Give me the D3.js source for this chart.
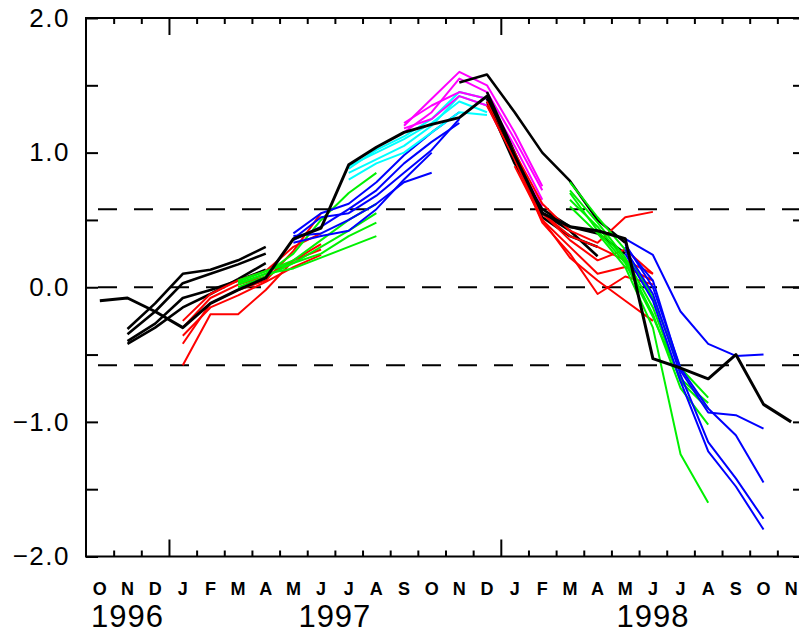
<!DOCTYPE html>
<html><head><meta charset="utf-8">
<script src="https://cdn.jsdelivr.net/npm/d3@7"></script>
<style>
html,body{margin:0;padding:0;background:#fff;}
svg{display:block;}
text{font-family:"Liberation Sans",Arial,sans-serif;fill:#000;}
</style></head>
<body>
<svg id="c" width="799" height="635"></svg>
<script>
// ---- data ----
const months = ["O","N","D","J","F","M","A","M","J","J","A","S","O","N","D","J","F","M","A","M","J","J","A","S","O","N"];
const yearLabels = ["1996","1997","1998"];
const yearPos = [1.5, 9, 20.5];           // month index where year label is centred
const yTicks = [-2,-1.5,-1,-0.5,0,0.5,1,1.5,2];
const refLines = [0.58, 0, -0.58];

// observed (starts Oct 1996 = index 0)
const observed = [-0.10,-0.08,-0.18,-0.30,-0.12,-0.02,0.07,0.36,0.44,0.91,1.04,1.15,1.21,1.26,1.42,0.98,0.55,0.45,0.42,0.36,-0.53,-0.60,-0.68,-0.50,-0.87,-1.00];

// forecasts: start month index + values
const black96Start = [1,1,1,1];
const black96 = [
  [-0.31,-0.12,0.10,0.13,0.20,0.30],
  [-0.35,-0.18,0.03,0.10,0.17,0.25],
  [-0.40,-0.27,-0.08,-0.02,0.05,0.13],
  [-0.42,-0.30,-0.15,-0.05,0.06,0.18]
];
const red97Start = [3,3,3,3,3];
const red97 = [
  [-0.58,-0.20,-0.20,-0.02,0.20,0.32],
  [-0.42,-0.12,-0.02,0.05,0.27,0.55],
  [-0.30,-0.08,0.02,0.08,0.20,0.28],
  [-0.36,-0.15,-0.06,0.04,0.15,0.24],
  [-0.25,-0.05,0.05,0.12,0.30,0.40]
];
const green97Start = [5,5,5,5,5];
const green97 = [
  [0.02,0.10,0.25,0.50,0.70,0.85],
  [0.05,0.12,0.20,0.35,0.50,0.62],
  [0.00,0.08,0.18,0.30,0.42,0.55],
  [0.03,0.10,0.14,0.22,0.30,0.38],
  [0.04,0.12,0.18,0.25,0.38,0.48]
];
const blue97Start = [7,7,7,7,7];
const blue97 = [
  [0.38,0.40,0.50,0.62,0.78,0.85],
  [0.35,0.45,0.58,0.72,0.92,1.08,1.22],
  [0.40,0.55,0.62,0.78,0.98,1.15,1.30],
  [0.36,0.52,0.55,0.68,0.85,1.02,1.25],
  [0.33,0.38,0.42,0.58,0.80,1.00]
];
const cyan97Start = [9,9,9,9];
const cyan97 = [
  [0.90,1.00,1.10,1.22,1.38,1.30],
  [0.85,0.95,1.05,1.20,1.42,1.35],
  [0.80,0.92,1.00,1.15,1.30,1.28],
  [0.88,1.02,1.12,1.25,1.45,1.40]
];
const magentaStart = [11,11,11,11];
const magenta = [
  [1.20,1.40,1.60,1.50,1.15,0.75],
  [1.15,1.30,1.55,1.45,1.10,0.72],
  [1.22,1.35,1.45,1.40,1.05,0.65],
  [1.18,1.25,1.42,1.35,0.95,0.60]
];
const black98Start = [13,14,14,14];
const black98 = [
  [1.52,1.58,1.30,1.00,0.79,0.50,0.33],
  [1.45,1.00,0.55,0.42,0.23],
  [1.40,0.95,0.52,0.38,0.30],
  [1.38,0.92,0.58,0.45,0.40,0.25]
];
const red98Start = [14,14,15,15,15,16];
const red98 = [
  [1.38,1.00,0.62,0.42,0.33,0.52,0.56],
  [1.35,0.95,0.55,0.35,0.20,0.28,0.10],
  [1.00,0.50,0.30,0.10,0.15,0.05],
  [0.95,0.48,0.25,-0.05,0.08,0.02],
  [0.90,0.50,0.22,0.05,-0.10,-0.25],
  [0.55,0.38,0.30,0.20,0.10]
];
const green98Start = [17,17,17,17,17];
const green98 = [
  [0.78,0.52,0.28,-0.08,-0.60,-0.82],
  [0.72,0.48,0.22,-0.15,-0.70,-0.90],
  [0.65,0.45,0.20,-0.20,-0.75,-1.02],
  [0.60,0.40,0.15,-0.30,-1.24,-1.60],
  [0.70,0.42,0.18,-0.22,-0.68,-0.86]
];
const blue98Start = [19,19,19,19,19];
const blue98 = [
  [0.36,0.24,-0.18,-0.42,-0.51,-0.50],
  [0.30,0.05,-0.62,-0.93,-0.95,-1.05],
  [0.32,0.00,-0.60,-0.90,-1.10,-1.45],
  [0.28,-0.05,-0.65,-1.15,-1.42,-1.72],
  [0.25,-0.10,-0.70,-1.22,-1.48,-1.80]
];

// ---- drawing ----
const svg = d3.select("#c");
const L = 86, R = 805, T = 18, B = 556.5;
const x = d3.scaleLinear().domain([0, months.length]).range([L, R]);
const y = d3.scaleLinear().domain([-2, 2]).range([B, T]);

const line = d3.line().x(d => x(d[0] + 0.5)).y(d => y(d[1]));

function drawGroup(starts, series, color, width) {
  series.forEach((vals, k) => {
    const pts = vals.map((v, j) => [starts[k] + j, v]);
    svg.append("path").attr("d", line(pts))
      .attr("fill", "none").attr("stroke", color)
      .attr("stroke-width", width).attr("stroke-linejoin", "round");
  });
}

// reference dashed lines
svg.selectAll("line.ref").data(refLines).enter().append("line")
  .attr("x1", 98).attr("x2", R).attr("y1", d => y(d)).attr("y2", d => y(d))
  .attr("stroke", "#000").attr("stroke-width", 2).attr("stroke-dasharray", "19,17");

drawGroup(black96Start, black96, "#000", 2.6);
drawGroup(red97Start, red97, "#ff0000", 2);
drawGroup(green97Start, green97, "#00f000", 2);
drawGroup(blue97Start, blue97, "#0000ff", 2);
drawGroup(cyan97Start, cyan97, "#00ffff", 2);
drawGroup(magentaStart, magenta, "#ff00ff", 2);
drawGroup(black98Start, black98, "#000", 2.6);
drawGroup(red98Start, red98, "#ff0000", 2);
drawGroup(green98Start, green98, "#00f000", 2);
drawGroup(blue98Start, blue98, "#0000ff", 2);
drawGroup([0], [observed], "#000", 3);

// frame
svg.append("rect").attr("x", L).attr("y", T).attr("width", R - L).attr("height", B - T)
  .attr("fill", "none").attr("stroke", "#000").attr("stroke-width", 2);

// y axes
const fmt = d => (d < 0 ? "\u2212" : "") + Math.abs(d).toFixed(1);
const yl = svg.append("g").attr("transform", `translate(${L},0)`)
  .call(d3.axisLeft(y).tickValues(yTicks).tickSize(-12).tickPadding(16)
    .tickFormat(d => Number.isInteger(d) ? fmt(d) : ""));
const yr = svg.append("g").attr("transform", `translate(${R},0)`)
  .call(d3.axisRight(y).tickValues(yTicks).tickSize(-12).tickFormat(""));
[yl, yr].forEach(g => {
  g.select(".domain").remove();
  g.selectAll(".tick line").attr("stroke", "#000").attr("stroke-width", 2);
});
yl.selectAll(".tick text").attr("font-size", 26).attr("letter-spacing", 1.5)
  .attr("font-family", "Liberation Sans, Arial, sans-serif").attr("fill", "#000");

// x axes (month boundaries), majors at year starts
const bounds = d3.range(1, months.length);
const isMajor = i => months[i] === "J" && months[i - 1] === "D";
function monthAxis(gen, ty, dir) {
  const g = svg.append("g").attr("transform", `translate(0,${ty})`)
    .call(gen(x).tickValues(bounds).tickSize(-6).tickFormat(""));
  g.select(".domain").remove();
  g.selectAll(".tick line").attr("stroke", "#000").attr("stroke-width", 2)
    .filter(d => isMajor(d)).attr("y2", dir * 17);
  return g;
}
monthAxis(d3.axisBottom, B, -1);
monthAxis(d3.axisTop, T, 1);

// month letters
svg.append("g").selectAll("text").data(months).enter().append("text")
  .attr("x", (d, i) => x(i + 0.5)).attr("y", 595)
  .attr("text-anchor", "middle").attr("font-size", 18).attr("font-weight", "bold")
  .text(d => d);

// year labels
svg.append("g").selectAll("text").data(yearLabels).enter().append("text")
  .attr("x", (d, i) => x(yearPos[i])).attr("y", 627)
  .attr("text-anchor", "middle").attr("font-size", 31).attr("letter-spacing", 1)
  .text(d => d);
</script>
</body></html>
